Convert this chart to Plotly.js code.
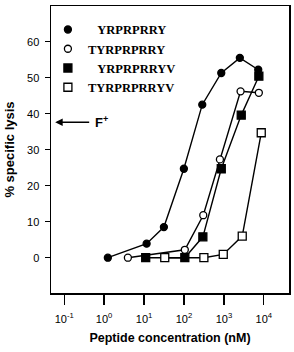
<!DOCTYPE html>
<html>
<head>
<meta charset="utf-8">
<script src="https://cdn.plot.ly/plotly-3.0.1.min.js"></script>
<style>
  html, body { margin: 0; padding: 0; background: #fff; }
  #chart { width: 294px; height: 352px; }
</style>
</head>
<body>
<div id="chart"></div>
<script>
// Peptide dose-response: % specific lysis vs peptide concentration (nM)
const peptideNames = ["YRPRPRRY", "TYRPRPRRY", "YRPRPRRYV", "TYRPRPRRYV"];

const concYRPRPRRY = [1.24, 11.6, 31.4, 99.4, 287, 859, 2506, 7244];
const lysisYRPRPRRY = [0, 3.9, 8.5, 24.7, 42.5, 51.3, 55.5, 52.2];

const concTYRPRPRRY = [3.94, 105, 304, 794, 2612, 7499];
const lysisTYRPRPRRY = [0, 2.2, 11.8, 27.3, 46.2, 45.8];

const concYRPRPRRYV = [11, 105, 297, 859, 2717, 7499];
const lysisYRPRPRRYV = [0, 0, 5.8, 24.7, 39.6, 50.4];

const concTYRPRPRRYV = [33, 315, 963, 2878, 8610];
const lysisTYRPRPRRYV = [0, 0, 0.9, 6.0, 34.7];

const xTickVals = [0.1, 1, 10, 100, 1000, 10000];
const xTickText = ["10<sup>-1</sup>", "10<sup>0</sup>", "10<sup>1</sup>", "10<sup>2</sup>", "10<sup>3</sup>", "10<sup>4</sup>"];
const yTickVals = [0, 10, 20, 30, 40, 50, 60];

// F+ reference level (arrow on the left edge)
const fPlusLevel = 37.6;

const sansFont = "Arial, 'Liberation Sans', Helvetica, sans-serif";
const serifFont = "'Liberation Serif', 'Times New Roman', serif";

// connecting lines, kept out of the legend
function lineTrace(x, y) {
  return {
    type: "scatter", mode: "lines", x: x, y: y,
    line: { color: "#000", width: 1.4 },
    showlegend: false, hoverinfo: "skip"
  };
}

// symbols, which also make the legend keys
function markerTrace(x, y, name, symbol, filled, size, rank) {
  return {
    type: "scatter", mode: "markers", x: x, y: y,
    name: name, legendrank: rank,
    marker: {
      symbol: symbol, size: size,
      color: filled ? "#000" : "#fff",
      line: { color: "#000", width: 1.3 }
    },
    cliponaxis: false
  };
}

const indent = "\u00a0\u00a0\u00a0";

const traces = [
  lineTrace(concTYRPRPRRYV, lysisTYRPRPRRYV),
  lineTrace(concYRPRPRRY, lysisYRPRPRRY),
  lineTrace(concTYRPRPRRY, lysisTYRPRPRRY),
  lineTrace(concYRPRPRRYV, lysisYRPRPRRYV),
  markerTrace(concTYRPRPRRYV, lysisTYRPRPRRYV, peptideNames[3], "square", false, 8, 4),
  markerTrace(concYRPRPRRY, lysisYRPRPRRY, indent + peptideNames[0], "circle", true, 7, 1),
  markerTrace(concTYRPRPRRY, lysisTYRPRPRRY, peptideNames[1], "circle", false, 7, 2),
  markerTrace(concYRPRPRRYV, lysisYRPRPRRYV, indent + peptideNames[2], "square", true, 8, 3)
];

const layout = {
  width: 294, height: 352,
  margin: { l: 51, r: 5, t: 6, b: 59 },
  paper_bgcolor: "#fff", plot_bgcolor: "#fff",
  font: { family: sansFont, color: "#000", size: 11 },
  showlegend: true,
  legend: {
    x: -0.013, xanchor: "left", y: 0.969, yanchor: "top",
    bgcolor: "rgba(0,0,0,0)",
    font: { family: serifFont, size: 12.5, weight: "bold", color: "#000" },
    traceorder: "normal"
  },
  xaxis: {
    type: "log", range: [-1.33, 4.63], color: "#000",
    tickvals: xTickVals, ticktext: xTickText,
    ticks: "outside", ticklen: 10, tickwidth: 1.3, tickcolor: "#000",
    ticklabelstandoff: 5,
    showline: true, linecolor: "#000", linewidth: 1.5, mirror: true,
    showgrid: false, zeroline: false,
    tickfont: { family: sansFont, size: 11, color: "#000" },
    title: { text: "Peptide concentration (nM)", font: { family: sansFont, size: 12.5, weight: "bold", color: "#000" }, standoff: 9 }
  },
  yaxis: {
    range: [-9.8, 69.9], color: "#000",
    tickvals: yTickVals,
    ticks: "outside", ticklen: 5, tickwidth: 1.3, tickcolor: "#000",
    ticklabelstandoff: 3,
    showline: true, linecolor: "#000", linewidth: 1.5, mirror: true,
    showgrid: false, zeroline: false,
    tickfont: { family: sansFont, size: 11, color: "#000" },
    title: { text: "% specific lysis", font: { family: sansFont, size: 13, weight: "bold", color: "#000" }, standoff: 9 }
  },
  annotations: [{
    x: -1.225, y: fPlusLevel, xref: "x", yref: "y",
    text: "<b>F<sup>+</sup></b>",
    font: { family: sansFont, size: 13, color: "#000" },
    showarrow: true, ax: 46, ay: 0,
    arrowhead: 2, arrowsize: 1, arrowwidth: 1.5, arrowcolor: "#000",
    startstandoff: 4
  }]
};

Plotly.newPlot("chart", traces, layout, { staticPlot: true, displayModeBar: false });
</script>
</body>
</html>
